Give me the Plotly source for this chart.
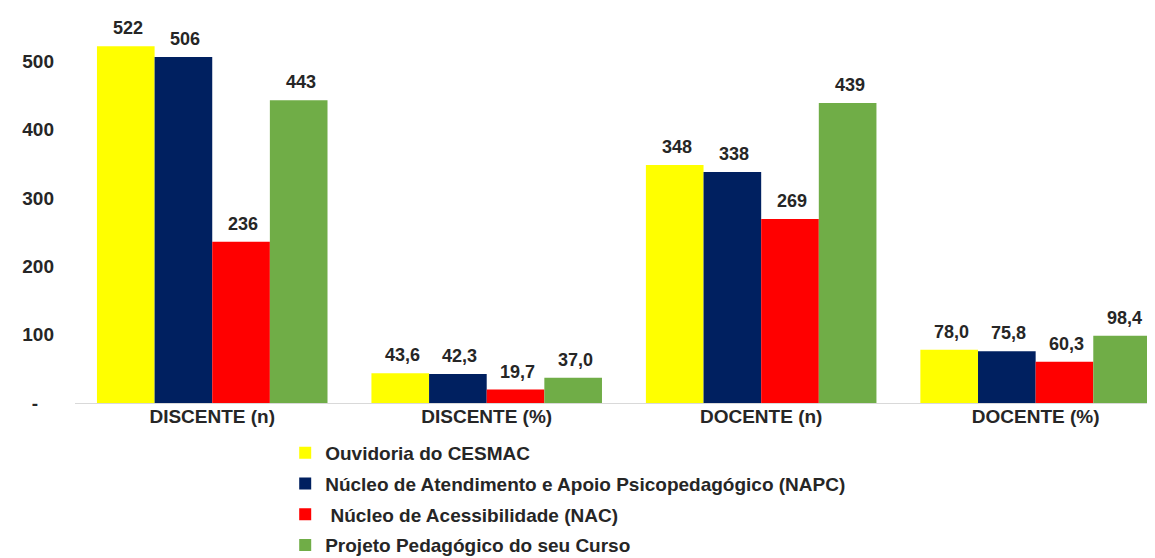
import plotly.graph_objects as go

categories = ["DISCENTE (n)", "DISCENTE (%)", "DOCENTE (n)", "DOCENTE (%)"]
is_percent = [False, True, False, True]

series_names = [
    "Ouvidoria do CESMAC",
    "Núcleo de Atendimento e Apoio Psicopedagógico (NAPC)",
    " Núcleo de Acessibilidade (NAC)",
    "Projeto Pedagógico do seu Curso",
]
ouvidoria = [522, 43.6, 348, 78.0]
napc = [506, 42.3, 338, 75.8]
nac = [236, 19.7, 269, 60.3]
projeto = [443, 37.0, 439, 98.4]
series_values = [ouvidoria, napc, nac, projeto]
colors = ["#FFFF00", "#002060", "#FF0000", "#70AD47"]

y_tick_values = [0, 100, 200, 300, 400, 500]
y_tick_labels = ["-\u00a0\u00a0\u00a0", "100", "200", "300", "400", "500"]

FONT = "Liberation Sans, Arial, sans-serif"
TEXT_COLOR = "#262626"
BARGAP = 0.16


def fmt(v, pct):
    if pct:
        return f"{v:.1f}".replace(".", ",")
    return f"{int(round(v))}"


fig = go.Figure()
for i, (name, vals, col) in enumerate(zip(series_names, series_values, colors)):
    fig.add_trace(go.Bar(
        x=categories, y=vals, name=name, legendgroup=f"g{i}",
        marker=dict(color=col, line=dict(width=0)),
        hoverinfo="skip",
    ))

n_series = len(series_values)
bar_w = (1 - BARGAP) / n_series
for si, vals in enumerate(series_values):
    for ci, v in enumerate(vals):
        fig.add_annotation(
            x=ci + (si - (n_series - 1) / 2) * bar_w, y=v,
            xref="x", yref="y",
            text=fmt(v, is_percent[ci]),
            showarrow=False, yanchor="bottom", xanchor="center",
            yshift=6, xshift=2,
            font=dict(family=FONT, size=18, color=TEXT_COLOR, weight="bold"),
        )

fig.update_layout(
    width=1155, height=558,
    margin=dict(l=67, r=0, t=19, b=163, autoexpand=False),
    barmode="group", bargap=BARGAP, bargroupgap=0,
    plot_bgcolor="white", paper_bgcolor="white",
    font=dict(family=FONT, size=19, color=TEXT_COLOR, weight="bold"),
    showlegend=True,
    legend=dict(
        orientation="v", xref="container", yref="container",
        x=0.240, y=0.2366, xanchor="left", yanchor="top",
        font=dict(family=FONT, size=19, color=TEXT_COLOR, weight="bold"),
        itemwidth=30, tracegroupgap=3, bgcolor="rgba(0,0,0,0)",
    ),
    xaxis=dict(
        type="category", range=[-0.5, 3.464],
        showgrid=False, zeroline=False,
        showline=True, linecolor="#D9D9D9", linewidth=1,
        ticks="", ticklabelstandoff=-4,
        tickfont=dict(family=FONT, size=19, color=TEXT_COLOR, weight="bold"),
    ),
    yaxis=dict(
        range=[0, 550], showgrid=False, zeroline=False, showline=False,
        tickvals=y_tick_values, ticktext=y_tick_labels,
        ticks="", ticklabelstandoff=20,
        tickfont=dict(family=FONT, size=19, color=TEXT_COLOR, weight="bold"),
    ),
)

fig.write_html("out.html")
